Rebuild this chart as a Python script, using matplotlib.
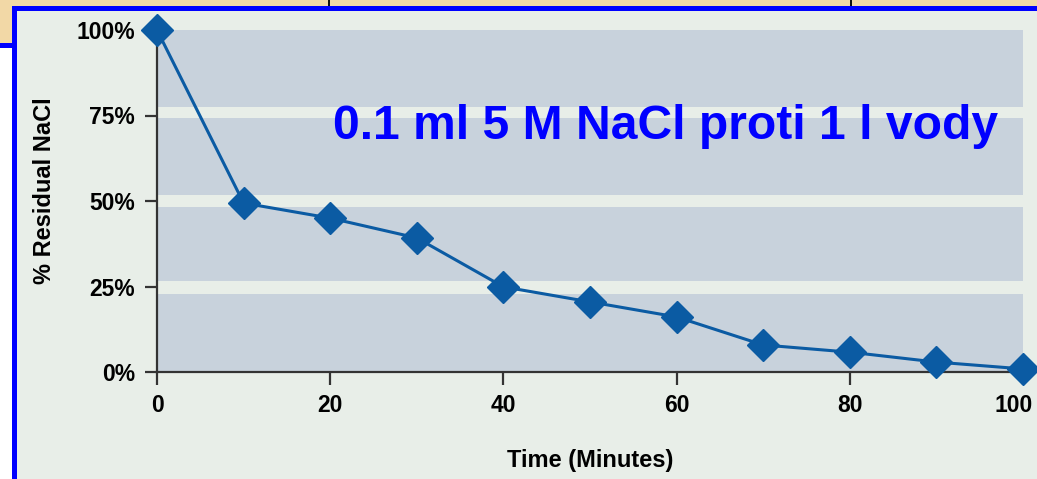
import matplotlib
matplotlib.use("Agg")
import matplotlib.pyplot as plt
from matplotlib.patches import Rectangle
from matplotlib.transforms import ScaledTranslation

# hodnoty
time_min = [0, 10, 20, 30, 40, 50, 60, 70, 80, 90, 100]
residual_pct = [100, 49.4, 45.0, 39.2, 24.9, 20.5, 16.1, 7.9, 5.8, 2.9, 0.9]
x_ticks = [0, 20, 40, 60, 80, 100]
y_ticks = [0, 25, 50, 75, 100]
y_tick_labels = ["0%", "25%", "50%", "75%", "100%"]
stripes = [(22.8, 26.6), (48.2, 51.8), (74.3, 77.5)]

W, H = 1037, 479
bg = "#e8eee8"
band = "#c8d2dc"
line_c = "#0b5ba3"
blue = "#0000ff"
tan = "#f2d8a6"
narrow = ["Liberation Sans Narrow", "Liberation Sans", "DejaVu Sans"]

fig = plt.figure(figsize=(W / 100, H / 100), dpi=100, facecolor=bg)


def px_rect(x0, y0, x1, y1, color):
    fig.patches.append(Rectangle((x0 / W, 1 - y1 / H), (x1 - x0) / W, (y1 - y0) / H,
                                 transform=fig.transFigure, color=color, lw=0, zorder=0))


# ramecek slidu
px_rect(0, 0, W, 6, tan)
px_rect(0, 0, 12, 43, tan)
px_rect(328, 0, 330, 6, "#111111")
px_rect(850, 0, 852, 6, "#111111")
px_rect(12, 6, W, 11, blue)
px_rect(12, 6, 17, H, blue)
px_rect(0, 43, 12, 48, blue)
px_rect(0, 48, 12, H, "white")

ax = fig.add_axes([157 / W, 1 - 372 / H, 866 / W, 342 / H])
ax.set_facecolor(band)
for lo, hi in stripes:
    ax.axhspan(lo, hi, color=bg, lw=0, zorder=0)

ax.plot(time_min, residual_pct, color=line_c, lw=2.2, marker="D", ms=16,
        mec=line_c, mfc=line_c, clip_on=False, zorder=5)

ax.set_xlim(0, 100)
ax.set_ylim(0, 100)
ax.set_xticks(x_ticks)
ax.set_yticks(y_ticks)
ax.set_yticklabels(y_tick_labels)
for s in ["top", "right"]:
    ax.spines[s].set_visible(False)
for s in ["left", "bottom"]:
    ax.spines[s].set_color("#333333")
    ax.spines[s].set_linewidth(1.6)
ax.tick_params(direction="out", length=9, width=1.6, color="#333333", pad=7)
for lab in ax.get_xticklabels() + ax.get_yticklabels():
    lab.set_family(narrow)
    lab.set_fontweight("bold")
    lab.set_fontsize(16.5)

# posledni popisek osy x je v originale posunuty doleva
last = ax.get_xticklabels()[-1]
last.set_transform(last.get_transform() + ScaledTranslation(-0.09, 0, fig.dpi_scale_trans))

fig.text(590 / W, 1 - 460 / H, "Time (Minutes)", family=narrow, fontweight="bold",
         fontsize=17, ha="center", va="center")
fig.text(45 / W, 1 - 191 / H, "% Residual NaCl", family=narrow, fontweight="bold",
         fontsize=17, ha="center", va="center", rotation=90)
fig.text(333 / W, 1 - 139 / H, "0.1 ml 5 M NaCl proti 1 l vody", family="Liberation Sans",
         fontweight="bold", fontsize=34.6, color=blue, ha="left", va="baseline")

fig.savefig("out.png", dpi=100, facecolor=bg)
